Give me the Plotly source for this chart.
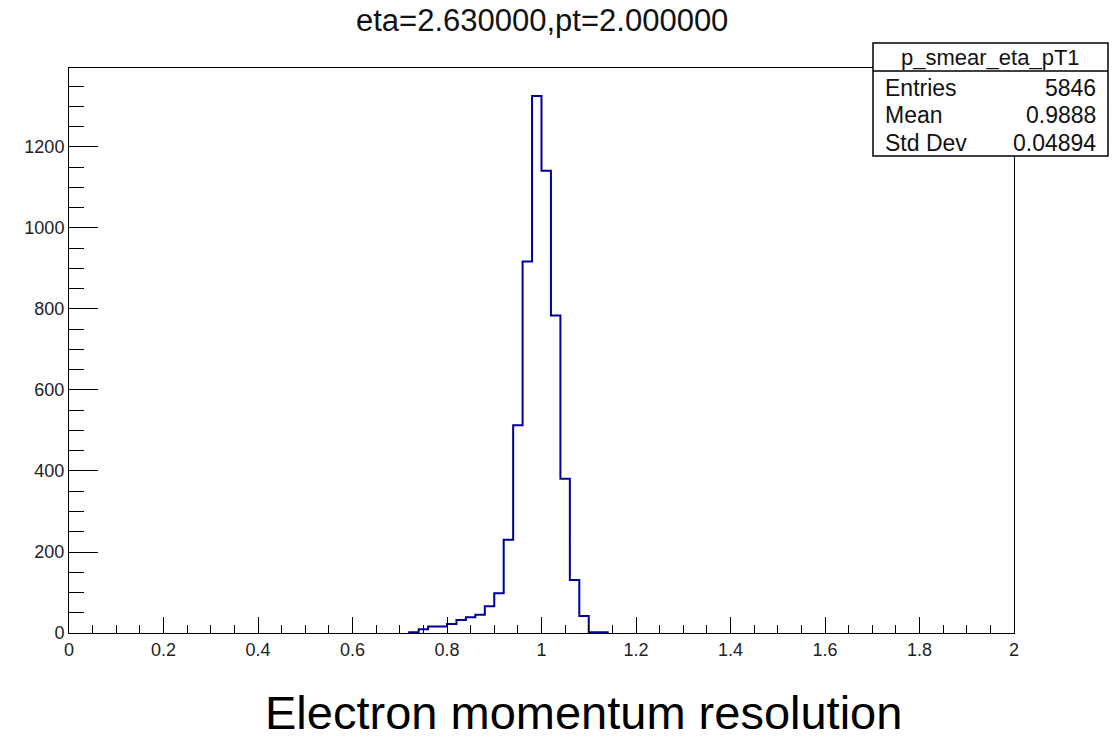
import numpy as np
import plotly.graph_objects as go

# Histogram of p_smear / p_true for electrons, 100 bins over [0, 2]
bin_width = 0.02
first_bin_low = 0.72
counts = [2, 9, 16, 16, 22, 32, 39, 45, 66, 98, 230, 513, 917, 1326,
          1141, 784, 381, 131, 42, 2, 2]

hist_name = "p_smear_eta_pT1"
stat_labels = ["Entries", "Mean", "Std Dev"]
stat_values = ["5846", "0.9888", "0.04894"]

title_text = "eta=2.630000,pt=2.000000"
caption_text = "Electron momentum resolution"

x_ticks = [0, 0.2, 0.4, 0.6, 0.8, 1, 1.2, 1.4, 1.6, 1.8, 2]
x_tick_text = ["0", "0.2", "0.4", "0.6", "0.8", "1", "1.2", "1.4", "1.6", "1.8", "2"]
y_ticks = [0, 200, 400, 600, 800, 1000, 1200]

# step outline over the filled bins, dropping to zero at both ends
edges = first_bin_low + bin_width * np.arange(len(counts) + 1)
step_x = np.concatenate([[edges[0]], edges])
step_y = np.concatenate([[0], counts, [0]])

W, H = 1113, 738
L, R, T, B = 69, 1014, 68, 633  # plot frame in pixels


def px(xp):
    return (xp - L) / (R - L)


def py(yp):
    return (B - yp) / (B - T)


fig = go.Figure()
fig.add_trace(go.Scatter(
    x=step_x, y=step_y, mode="lines",
    line=dict(color="#000099", width=2, shape="hv"),
    hoverinfo="skip", showlegend=False,
))

font_family = "Liberation Sans, Arial, Helvetica, sans-serif"
tick_font = dict(family=font_family, size=18, color="#222222")

fig.update_layout(
    width=W, height=H,
    margin=dict(l=L, r=W - R, t=T, b=H - B),
    paper_bgcolor="white", plot_bgcolor="white",
    showlegend=False,
    xaxis=dict(
        range=[0, 2], tickmode="array", tickvals=x_ticks, ticktext=x_tick_text,
        ticks="inside", ticklen=16, tickwidth=1, tickcolor="black",
        minor=dict(ticks="inside", ticklen=8, dtick=0.05, tickwidth=1, tickcolor="black"),
        showgrid=False, zeroline=False,
        showline=True, linecolor="black", linewidth=1, mirror=True,
        tickfont=tick_font,
    ),
    yaxis=dict(
        range=[0, 1395], tickmode="array", tickvals=y_ticks,
        ticks="inside", ticklen=29, tickwidth=1, tickcolor="black",
        minor=dict(ticks="inside", ticklen=15, dtick=50, tickwidth=1, tickcolor="black"),
        showgrid=False, zeroline=False,
        showline=True, linecolor="black", linewidth=1, mirror=True,
        tickfont=tick_font,
    ),
)

# statistics box
box_l, box_r, box_t, box_b, box_mid = 873, 1108, 43, 156, 71
fig.add_shape(type="rect", xref="paper", yref="paper",
              x0=px(box_l), x1=px(box_r), y0=py(box_b), y1=py(box_t),
              line=dict(color="black", width=1.5), fillcolor="white", layer="above")
fig.add_shape(type="line", xref="paper", yref="paper",
              x0=px(box_l), x1=px(box_r), y0=py(box_mid), y1=py(box_mid),
              line=dict(color="black", width=1.5), layer="above")
fig.add_annotation(text=hist_name, xref="paper", yref="paper",
                   x=px((box_l + box_r) / 2), y=py(57), showarrow=False,
                   xanchor="center", yanchor="middle",
                   font=dict(family=font_family, size=22, color="#111111"))
row_y = [88, 115, 143]
for lab, val, yy in zip(stat_labels, stat_values, row_y):
    fig.add_annotation(text=lab, xref="paper", yref="paper",
                       x=px(883), y=py(yy), showarrow=False,
                       xanchor="left", yanchor="middle",
                       font=dict(family=font_family, size=23, color="#111111"))
    fig.add_annotation(text=val, xref="paper", yref="paper",
                       x=px(1098), y=py(yy), showarrow=False,
                       xanchor="right", yanchor="middle",
                       font=dict(family=font_family, size=23, color="#111111"))

# title above the frame
fig.add_annotation(text=title_text, xref="paper", yref="paper",
                   x=px(542), y=py(21), showarrow=False,
                   xanchor="center", yanchor="middle",
                   font=dict(family=font_family, size=31, color="#111111"))

# caption below the axis
fig.add_annotation(text=caption_text, xref="paper", yref="paper",
                   x=px(583), y=py(712), showarrow=False,
                   xanchor="center", yanchor="middle",
                   font=dict(family=font_family, size=47, color="#000000"))

fig.write_html("out.html")
